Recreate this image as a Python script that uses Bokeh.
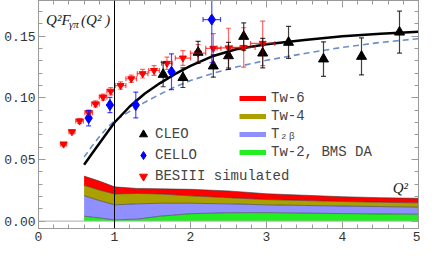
import numpy as np
from bokeh.plotting import figure
from bokeh.models import (ColumnDataSource, Whisker, TeeHead, Span, Legend, LegendItem,
                          LinearAxis, FixedTicker, NumeralTickFormatter, Range1d, Label)
from bokeh.embed import file_html
from bokeh.resources import INLINE

# ---------------- data ----------------
# BESIII simulated (red)
bes_q2 = [0.33, 0.44, 0.54, 0.66, 0.75, 0.85, 0.95, 1.08, 1.22, 1.37, 1.52, 1.69, 1.90, 2.10, 2.30, 2.50, 2.70, 2.95]
bes_f = [0.0625, 0.0725, 0.0812, 0.0879, 0.0951, 0.1006, 0.1054, 0.1100, 0.1155, 0.1196, 0.1222,
         0.1280, 0.1323, 0.1363, 0.1402, 0.1405, 0.1409, 0.1442]
bes_dq = [0.04, 0.04, 0.05, 0.05, 0.05, 0.05, 0.05, 0.07, 0.07, 0.07, 0.07, 0.07, 0.10, 0.10, 0.10, 0.15, 0.15, 0.16]
bes_df = [0.0015, 0.0015, 0.002, 0.002, 0.0025, 0.0025, 0.003, 0.003, 0.003, 0.0035, 0.004,
          0.005, 0.006, 0.007, 0.012, 0.016, 0.016, 0.018]

# CLEO (black)
cleo_q2 = [1.64, 1.90, 2.10, 2.30, 2.50, 2.70, 2.95, 3.29, 3.75, 4.25, 4.75]
cleo_f = [0.1190, 0.1164, 0.1369, 0.1258, 0.1341, 0.1498, 0.1363, 0.1450, 0.1315, 0.1336, 0.1533]
cleo_df = [0.010, 0.008, 0.009, 0.009, 0.011, 0.011, 0.012, 0.013, 0.014, 0.015, 0.017]

# CELLO (blue)
cello_q2 = [0.66, 0.94, 1.28, 1.75, 2.28]
cello_f = [0.0836, 0.0942, 0.0942, 0.1212, 0.1635]
cello_df = [0.0063, 0.0062, 0.0105, 0.0145, 0.035]
cello_dq = [0.0, 0.0, 0.0, 0.0, 0.115]

# theory curves
curve_q2 = [0.6, 0.7, 0.8, 0.9, 1.0, 1.2, 1.4, 1.6, 1.8, 2.0, 2.3, 2.6, 3.0, 3.5, 4.0, 4.5, 5.0]
total_f = [0.0458, 0.0545, 0.0630, 0.0715, 0.0800, 0.0930, 0.1035, 0.1120, 0.1195, 0.1260, 0.1340,
           0.1395, 0.1435, 0.1470, 0.1500, 0.1520, 0.1537]
dashed_f = [0.0520, 0.0605, 0.0685, 0.0755, 0.0815, 0.0890, 0.0965, 0.1030, 0.1090, 0.1140, 0.1200,
            0.1250, 0.1305, 0.1360, 0.1410, 0.1450, 0.1480]

# stacked contribution bands (cumulative upper boundaries)
band_q2 = [0.6, 0.8, 1.0, 1.3, 1.6, 2.0, 2.5, 3.0, 3.5, 4.0, 4.5, 5.0]
tw2_top = [0.0040, 0.0026, 0.0010, 0.0016, 0.0040, 0.0060, 0.0068, 0.0069, 0.0065, 0.0061, 0.0058, 0.0056]
t2b_top = [0.0206, 0.0167, 0.0132, 0.0140, 0.0145, 0.0145, 0.0140, 0.0132, 0.0127, 0.0122, 0.0118, 0.0114]
tw4_top = [0.0290, 0.0252, 0.0220, 0.0225, 0.0220, 0.0205, 0.0190, 0.0175, 0.0167, 0.0159, 0.0153, 0.0148]
tw6_top = [0.0365, 0.0325, 0.0278, 0.0265, 0.0262, 0.0258, 0.0245, 0.0222, 0.0210, 0.0198, 0.0190, 0.0185]

x_ticks = [0, 1, 2, 3, 4, 5]
y_ticks = [0.0, 0.05, 0.10, 0.15]
q2_ref = 1.0

# ---------------- figure ----------------
FONT = "Liberation Mono"
p = figure(width=420, height=246, x_range=Range1d(0, 5), y_range=Range1d(-0.006, 0.179),
           output_backend="svg", toolbar_location=None,
           min_border_left=38, min_border_right=2, min_border_top=0, min_border_bottom=18)
p.grid.visible = False
p.outline_line_color = "#999999"
p.background_fill_color = "white"

# bands
zeros = [0.0] * len(band_q2)
bsrc = ColumnDataSource(dict(q=band_q2, z=zeros, a=tw2_top, b=t2b_top, c=tw4_top, d=tw6_top))
p.varea(x="q", y1="z", y2="a", source=bsrc, fill_color="#22ee22")
p.varea(x="q", y1="a", y2="b", source=bsrc, fill_color="#8f8fff")
p.varea(x="q", y1="b", y2="c", source=bsrc, fill_color="#aaa000")
p.varea(x="q", y1="c", y2="d", source=bsrc, fill_color="#ff0000")
for col in ["a", "b", "c", "d"]:
    p.line(x="q", y=col, source=bsrc, line_color="#333333", line_width=0.8, line_alpha=0.7)

# legend-only line renderers (thick lines)
leg_tw6 = p.line(x="q", y="d", source=bsrc, line_color="#ff0000", line_width=5, visible=False)
leg_tw4 = p.line(x="q", y="c", source=bsrc, line_color="#aaa000", line_width=5, visible=False)
leg_t2b = p.line(x="q", y="b", source=bsrc, line_color="#8f8fff", line_width=5, visible=False)
leg_tw2 = p.line(x="q", y="a", source=bsrc, line_color="#22ee22", line_width=5, visible=False)

# theory curves
csrc = ColumnDataSource(dict(q=curve_q2, t=total_f, d=dashed_f))
p.line(x="q", y="d", source=csrc, line_color="#6a8fc8", line_width=1.6, line_dash="6 4")
p.line(x="q", y="t", source=csrc, line_color="black", line_width=2.5)

# reference lines
p.add_layout(Span(location=0.0, dimension="width", line_color="#aaaaaa", line_width=1))
p.add_layout(Span(location=q2_ref, dimension="height", line_color="black", line_width=1))

def add_err(src, base, lo, hi, dim, color, alpha, head=5):
    w = Whisker(source=src, base=base, lower=lo, upper=hi, dimension=dim,
                line_color=color, line_alpha=alpha, line_width=1.2, level="glyph",
                upper_head=TeeHead(size=head, line_color=color, line_alpha=alpha, line_width=1.2),
                lower_head=TeeHead(size=head, line_color=color, line_alpha=alpha, line_width=1.2))
    p.add_layout(w)

# BESIII
bq = np.array(bes_q2); bf = np.array(bes_f)
bes_src = ColumnDataSource(dict(q=bq, f=bf, fl=bf - np.array(bes_df), fu=bf + np.array(bes_df),
                                ql=bq - np.array(bes_dq), qu=bq + np.array(bes_dq)))
add_err(bes_src, "q", "fl", "fu", "height", "#ff0000", 0.6)
add_err(bes_src, "f", "ql", "qu", "width", "#ff0000", 0.7)
r_bes = p.scatter(x="q", y="f", source=bes_src, marker="inverted_triangle", size=7,
                  fill_color="#ff0000", line_color="#ff0000")

# CLEO
cq = np.array(cleo_q2); cf = np.array(cleo_f)
cleo_src = ColumnDataSource(dict(q=cq, f=cf, fl=cf - np.array(cleo_df), fu=cf + np.array(cleo_df)))
add_err(cleo_src, "q", "fl", "fu", "height", "black", 0.75)
r_cleo = p.scatter(x="q", y="f", source=cleo_src, marker="triangle", size=10,
                   fill_color="black", line_color="black")

# CELLO
eq = np.array(cello_q2); ef = np.array(cello_f); edq = np.array(cello_dq)
cello_src = ColumnDataSource(dict(q=eq, f=ef, fl=ef - np.array(cello_df), fu=ef + np.array(cello_df)))
m = edq > 0
cello_x_src = ColumnDataSource(dict(f=ef[m], ql=eq[m] - edq[m], qu=eq[m] + edq[m]))
add_err(cello_src, "q", "fl", "fu", "height", "#0000ff", 0.7)
add_err(cello_x_src, "f", "ql", "qu", "width", "#0000ff", 0.7)
r_cello = p.scatter(x="q", y="f", source=cello_src, marker="diamond", size=11,
                    fill_color="#0000ff", line_color="#0000ff")

# axes
p.add_layout(LinearAxis(), "right")
p.add_layout(LinearAxis(), "above")
xminor = [round(0.2 * i, 2) for i in range(0, 26)]
yminor = [round(0.01 * i, 2) for i in range(-1, 18)]
for ax in p.xaxis:
    ax.ticker = FixedTicker(ticks=x_ticks, minor_ticks=xminor)
for ax in p.yaxis:
    ax.ticker = FixedTicker(ticks=y_ticks, minor_ticks=yminor)
    ax.formatter = NumeralTickFormatter(format="0.00")
for ax in p.axis:
    ax.axis_line_color = "#999999"
    ax.major_tick_line_color = "#999999"
    ax.minor_tick_line_color = "#999999"
    ax.major_tick_in = 7
    ax.major_tick_out = 0
    ax.minor_tick_in = 4
    ax.minor_tick_out = 0
    ax.major_label_text_font = FONT
    ax.major_label_text_color = "#333333"
    ax.major_label_text_font_size = "13px"
p.below[0].major_label_standoff = 3
p.left[0].major_label_standoff = 3
for ax in (p.right[0], p.above[0]):
    ax.major_label_text_font_size = "0px"
    ax.major_label_text_color = None
    ax.major_label_standoff = 0

# legends
leg1 = Legend(items=[LegendItem(label="CLEO", renderers=[r_cleo]),
                     LegendItem(label="CELLO", renderers=[r_cello]),
                     LegendItem(label="BESIII simulated", renderers=[r_bes])],
              location=(95, 42), glyph_width=20, glyph_height=20, spacing=1, padding=0, margin=0,
              label_standoff=2, label_text_font=FONT, label_text_font_size="14px",
              label_height=20, border_line_color=None, background_fill_alpha=0)
leg2 = Legend(items=[LegendItem(label="Tw-6", renderers=[leg_tw6]),
                     LegendItem(label="Tw-4", renderers=[leg_tw4]),
                     LegendItem(label="T\u2082\u1d66", renderers=[leg_t2b]),
                     LegendItem(label="Tw-2, BMS DA", renderers=[leg_tw2])],
              location=(201, 67), glyph_width=27, glyph_height=18, spacing=0, padding=0, margin=0,
              label_standoff=5, label_text_font=FONT, label_text_font_size="14px",
              label_height=18, border_line_color=None, background_fill_alpha=0)
p.add_layout(leg1)
p.add_layout(leg2)

# math-like labels
SERIF = "Liberation Serif"
p.add_layout(Label(x=0.10, y=0.1635, text="Q\u00b2F", text_font=SERIF, text_font_style="italic",
                   text_font_size="15px", text_baseline="middle", text_color="#222222"))
p.add_layout(Label(x=0.40, y=0.1598, text="\u03b3\u03c0", text_font=SERIF, text_font_style="italic",
                   text_font_size="11px", text_baseline="middle", text_color="#222222"))
p.add_layout(Label(x=0.56, y=0.1635, text="(Q\u00b2 )", text_font=SERIF, text_font_style="italic",
                   text_font_size="15px", text_baseline="middle", text_color="#222222"))
p.add_layout(Label(x=4.66, y=0.0272, text="Q\u00b2", text_font=SERIF, text_font_style="italic",
                   text_font_size="15px", text_baseline="middle", text_color="#222222"))

open("out.html", "w").write(file_html(p, INLINE))
